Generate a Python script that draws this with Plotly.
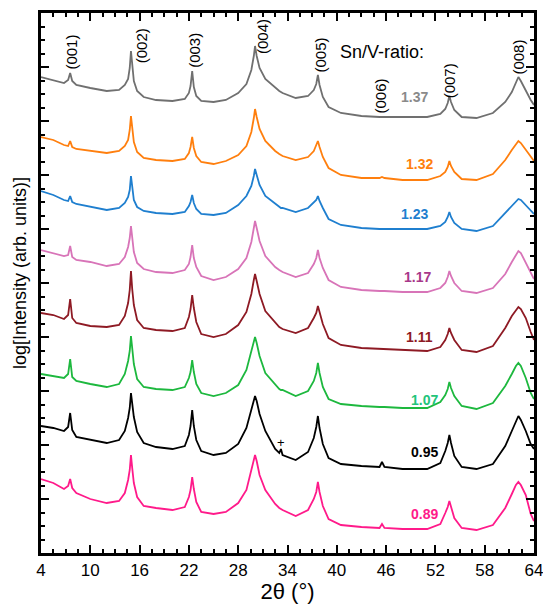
import plotly.graph_objects as go

# 2-theta sampling grid (degrees)
two_theta = [
    4.0, 5.5, 6.8, 7.3, 7.55, 7.8, 8.3, 10.0, 12.0, 13.5,
    14.2, 14.6, 14.8, 14.95, 15.1, 15.3, 15.7, 16.5, 18.0, 20.0,
    21.5, 22.0, 22.2, 22.4, 22.6, 22.9, 23.5, 25.0, 26.5, 28.0,
    29.0, 29.6, 29.9, 30.05, 30.25, 30.6, 31.3, 32.5, 33.0, 33.2,
    33.4, 35.0, 36.5, 37.2, 37.5, 37.7, 37.9, 38.3, 39.0, 40.5,
    43.0, 45.2, 45.5, 45.8, 48.0, 51.0, 52.6, 53.2, 53.5, 53.7,
    53.9, 54.3, 55.2, 57.0, 59.0, 60.5, 61.3, 61.8, 62.1, 62.4,
    63.0, 63.6, 64.0,
]

# log-intensity traces (arb. units, stacked), one list per Sn/V ratio
r137 = [476, 473, 470, 473, 480, 472, 468, 465, 462, 463,
        468, 474, 485, 502, 487, 472, 462, 456, 453, 452,
        454, 460, 467, 482, 466, 457, 452, 451, 453, 460,
        469, 483, 497, 507, 497, 485, 474, 465, 462, 461,
        460, 455, 457, 463, 469, 478, 468, 456, 446, 440,
        437, 436, 436, 436, 436, 436, 439, 444, 450, 457,
        451, 443, 436, 435, 440, 451, 461, 470, 476, 472,
        462, 453, 448]
r132 = [416, 413, 408, 407, 412, 406, 404, 402, 400, 402,
        407, 413, 423, 437, 424, 411, 401, 395, 393, 392,
        394, 400, 406, 416, 405, 397, 391, 389, 392, 398,
        407, 421, 435, 444, 436, 424, 412, 402, 399, 398,
        397, 393, 396, 402, 407, 412, 406, 396, 385, 378,
        375, 375, 376, 375, 373, 373, 377, 381, 386, 392,
        387, 381, 374, 373, 379, 393, 403, 409, 412, 410,
        403, 396, 392]
r123 = [362, 358, 353, 352, 357, 351, 349, 346, 343, 345,
        350, 356, 363, 377, 364, 353, 346, 342, 340, 339,
        341, 347, 351, 358, 350, 344, 339, 338, 340, 348,
        357, 367, 377, 384, 378, 368, 357, 349, 346, 345,
        345, 341, 345, 350, 353, 357, 352, 345, 334, 328,
        325, 324, 324, 324, 324, 324, 327, 331, 336, 341,
        336, 330, 324, 322, 327, 340, 348, 352, 354, 353,
        348, 342, 339]
r117 = [303, 300, 297, 298, 307, 296, 293, 291, 287, 289,
        296, 306, 315, 327, 314, 301, 290, 284, 281, 280,
        283, 289, 296, 308, 295, 286, 277, 273, 276, 284,
        295, 311, 325, 332, 325, 312, 297, 286, 283, 282,
        281, 276, 280, 289, 295, 303, 295, 285, 273, 266,
        263, 262, 262, 262, 261, 261, 265, 270, 276, 282,
        277, 270, 262, 260, 265, 279, 291, 298, 302, 300,
        290, 279, 274]
r111 = [240, 238, 234, 238, 254, 235, 230, 227, 226, 228,
        237, 250, 263, 282, 264, 248, 233, 225, 223, 222,
        225, 236, 244, 258, 245, 231, 219, 216, 219, 228,
        241, 259, 273, 279, 272, 259, 242, 230, 226, 225,
        224, 220, 225, 235, 240, 247, 240, 229, 215, 208,
        205, 204, 204, 204, 203, 202, 206, 213, 219, 225,
        220, 213, 203, 201, 207, 225, 237, 243, 246, 244,
        235, 221, 213]
r107 = [179, 177, 175, 179, 194, 176, 172, 169, 166, 169,
        179, 192, 202, 217, 203, 189, 174, 166, 164, 163,
        166, 175, 181, 193, 181, 169, 160, 157, 160, 168,
        183, 201, 212, 216, 210, 197, 180, 168, 164, 163,
        163, 157, 162, 172, 180, 190, 180, 166, 154, 149,
        147, 146, 146, 146, 145, 145, 151, 158, 164, 171,
        165, 157, 147, 144, 150, 167, 179, 187, 190, 187,
        175, 160, 154]
r095 = [127, 125, 122, 126, 140, 123, 116, 113, 110, 113,
        122, 135, 145, 160, 148, 136, 121, 110, 106, 104,
        107, 118, 127, 143, 127, 113, 102, 98, 100, 109,
        125, 143, 153, 157, 152, 139, 122, 104, 100, 104,
        98, 93, 101, 115, 126, 137, 125, 109, 95, 89,
        87, 86, 91, 86, 84, 84, 90, 102, 110, 118,
        110, 97, 86, 84, 89, 107, 122, 132, 137, 133,
        122, 109, 104]
r089 = [74, 70, 64, 67, 74, 65, 60, 54, 50, 52,
        60, 73, 83, 98, 85, 70, 56, 47, 45, 43,
        46, 56, 63, 76, 64, 51, 41, 39, 41, 50,
        63, 82, 93, 98, 92, 78, 63, 49, 45, 44,
        43, 37, 43, 54, 61, 71, 61, 47, 34, 28,
        26, 25, 29, 25, 24, 24, 29, 40, 46, 52,
        46, 35, 25, 23, 28, 45, 59, 68, 71, 68,
        58, 39, 32]

ratio_labels = ["1.37", "1.32", "1.23", "1.17", "1.11", "1.07", "0.95", "0.89"]
series = [r137, r132, r123, r117, r111, r107, r095, r089]
line_colors = ["#707070", "#ff7f0e", "#1f7fcf", "#d874b8",
               "#8e1a24", "#1db83e", "#000000", "#ff1a8a"]
label_colors = ["#8a8a8a", "#ff7f0e", "#1f7fcf", "#a8388a",
                "#8e1a24", "#22c47a", "#000000", "#ff1a8a"]

# reflection labels
hkl_labels = ["(001)", "(002)", "(003)", "(004)", "(005)", "(006)", "(007)", "(008)"]
hkl_x = [7.6, 16.2, 22.6, 30.9, 37.9, 45.2, 53.7, 62.0]
hkl_y = [501, 507, 503, 516, 498, 457, 472, 496]

# ratio label anchor (right edge) positions
lab_x = [51.3, 51.9, 51.4, 51.7, 51.9, 52.5, 52.5, 52.5]
lab_y = [456, 389, 339, 276, 216, 153, 101, 39]

FONT = "Arial, Liberation Sans, sans-serif"

fig = go.Figure()
for vals, col in zip(series, line_colors):
    fig.add_trace(go.Scatter(x=two_theta, y=vals, mode="lines",
                             line=dict(color=col, width=1.8), showlegend=False,
                             hoverinfo="skip"))

ann = []
for t, x, y in zip(hkl_labels, hkl_x, hkl_y):
    ann.append(dict(x=x, y=y, text=t, showarrow=False, textangle=-90,
                    font=dict(family=FONT, size=15, color="black"),
                    xanchor="center", yanchor="middle"))
for t, x, y, c in zip(ratio_labels, lab_x, lab_y, label_colors):
    ann.append(dict(x=x, y=y, text="<b>%s</b>" % t, showarrow=False,
                    font=dict(family=FONT, size=14, color=c),
                    xanchor="right", yanchor="middle"))
ann.append(dict(x=45.5, y=501, text="Sn/V-ratio:", showarrow=False,
                font=dict(family=FONT, size=18, color="black"),
                xanchor="center", yanchor="middle"))
ann.append(dict(x=33.2, y=111, text="+", showarrow=False,
                font=dict(family=FONT, size=13, color="black"),
                xanchor="center", yanchor="middle"))
ann.append(dict(x=-0.043, y=0.518, xref="paper", yref="paper",
                text="log[Intensity (arb. units)]", showarrow=False, textangle=-90,
                font=dict(family=FONT, size=18, color="black"),
                xanchor="center", yanchor="middle"))

axis_common = dict(showline=True, linewidth=2.5, linecolor="black", mirror="ticks",
                   ticks="inside", ticklen=8, tickwidth=2, tickcolor="black",
                   showgrid=False, zeroline=False)

fig.update_layout(
    width=543, height=604,
    margin=dict(l=41, r=9, t=13, b=51, autoexpand=False),
    paper_bgcolor="white", plot_bgcolor="white",
    font=dict(family=FONT, color="black"),
    annotations=ann,
    xaxis=dict(range=[4, 64], tick0=4, dtick=6, ticklabeloverflow="allow",
               tickfont=dict(family=FONT, size=17),
               title=dict(text="2θ (°)", font=dict(family=FONT, size=22), standoff=4),
               minor=dict(ticks="inside", ticklen=4, tickwidth=1.5, tickcolor="black", dtick=1.5, tick0=4),
               **axis_common),
    yaxis=dict(range=[0, 540], tick0=0, dtick=54, showticklabels=False,
               minor=dict(ticks="inside", ticklen=4, tickwidth=1.5, tickcolor="black", dtick=13.5, tick0=0),
               **axis_common),
)

fig.write_html("out.html")
